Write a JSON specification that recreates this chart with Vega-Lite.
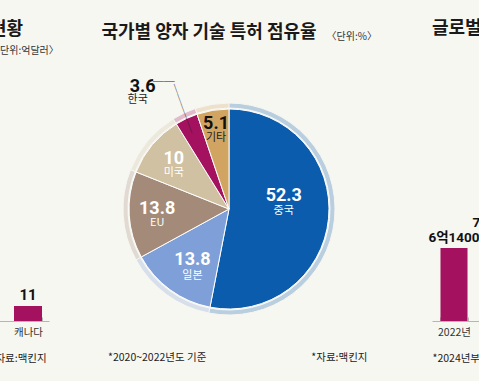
{
  "$schema": "https://vega.github.io/schema/vega-lite/v6.json",
  "background": "#f7f7f2",
  "padding": {"left": -14, "right": -45, "top": 20, "bottom": 17},
  "bounds": "flush",
  "spacing": 53,
  "title": {
    "text": "국가별 양자 기술 특허 점유율",
    "subtitle": "\u200b\u3000\u3000\u3000\u3000\u3000\u3000\u3000\u3000\u3000\u3000\u3000\u3000\u3000\u3000\u3000\u3000\u3000\u3000\u3000\u3000\u3000\u3000\u2002〈단위:%〉",
    "anchor": "start",
    "frame": "group",
    "dx": 115.5,
    "offset": -22,
    "subtitlePadding": -10,
    "fontSize": 18,
    "subtitleFontSize": 10
  },
  "config": {
    "view": {"stroke": null},
    "font": "Noto Sans CJK KR",
    "title": {
      "font": "Noto Sans CJK KR",
      "fontSize": 18,
      "fontWeight": "bold",
      "color": "#1a1a1a",
      "subtitleFont": "Noto Sans CJK KR",
      "subtitleFontSize": 10,
      "subtitleColor": "#333333"
    },
    "axis": {
      "labelFont": "Noto Sans CJK KR",
      "titleFont": "Noto Sans CJK KR",
      "labelFontSize": 10.5,
      "titleFontSize": 10.5,
      "titleFontWeight": "normal",
      "labelColor": "#333333",
      "titleColor": "#222222",
      "domainColor": "#b5b5b5",
      "tickColor": "#b5b5b5",
      "grid": false
    }
  },
  "hconcat": [
    {
      "width": 63,
      "height": 224,
      "title": {
        "text": "현황",
        "subtitle": "〈단위:억달러〉",
        "anchor": "start",
        "frame": "group",
        "dx": 4,
        "offset": 41,
        "subtitlePadding": 7
      },
      "data": {"values": [{"country": "캐나다", "amount": 11, "label": "11"}]},
      "encoding": {
        "x": {
          "field": "country",
          "type": "nominal",
          "scale": {"paddingInner": 0.35, "paddingOuter": 0.406, "align": 0.8},
          "axis": {
            "title": "*자료:맥킨지",
            "titleAnchor": "start",
            "titleAlign": "left",
            "titleX": 4,
            "labelAngle": 0,
            "tickBand": "extent",
            "tickSize": -4,
            "labelPadding": 10,
            "titlePadding": 16
          }
        },
        "y": {
          "field": "amount",
          "type": "quantitative",
          "axis": null,
          "scale": {"domain": [0, 164.3], "nice": false}
        }
      },
      "layer": [
        {"mark": {"type": "bar", "color": "#a3115f"}},
        {
          "mark": {
            "type": "text",
            "baseline": "bottom",
            "dy": -3,
            "fontSize": 15,
            "fontWeight": "bold",
            "color": "#111111",
            "font": "Roboto, Noto Sans CJK KR, sans-serif"
          },
          "encoding": {"text": {"field": "label", "type": "nominal"}}
        }
      ]
    },
    {
      "width": 277,
      "height": 224,
      "title": {
        "text": "*2020~2022년도 기준\u3000\u3000\u3000\u3000\u3000\u3000\u3000\u3000\u3000\u3000*자료:맥킨지",
        "orient": "bottom",
        "anchor": "start",
        "frame": "group",
        "dx": 6,
        "offset": 13,
        "fontSize": 10.5,
        "fontWeight": "normal",
        "color": "#222222"
      },
      "data": {
        "values": [
          {"country": "중국", "share": 52.3, "rank": 1},
          {"country": "일본", "share": 13.8, "rank": 2},
          {"country": "EU", "share": 13.8, "rank": 3},
          {"country": "미국", "share": 10, "rank": 4},
          {"country": "한국", "share": 3.6, "rank": 5},
          {"country": "기타", "share": 5.1, "rank": 6}
        ]
      },
      "encoding": {
        "theta": {"field": "share", "type": "quantitative", "stack": true},
        "order": {"field": "rank", "type": "quantitative"}
      },
      "layer": [
        {
          "mark": {"type": "arc", "radius": 106, "radius2": 101, "opacity": 0.26, "stroke": "#f7f7f2", "strokeWidth": 1, "xOffset": -11.5},
          "encoding": {
            "color": {
              "field": "country",
              "type": "nominal",
              "scale": {
                "domain": ["중국", "일본", "EU", "미국", "한국", "기타"],
                "range": ["#0c5cad", "#7f9fd8", "#a48b79", "#cfc1a1", "#a3115f", "#d2a462"]
              },
              "legend": null
            }
          }
        },
        {
          "mark": {"type": "arc", "radius": 100, "stroke": "#ffffff", "strokeWidth": 1, "xOffset": -11.5},
          "encoding": {
            "color": {"field": "country", "type": "nominal", "legend": null}
          }
        },
        {
          "mark": {"type": "text", "radius": 55, "dy": -18, "xOffset": -11.5, "fontSize": 18, "fontWeight": "bold", "color": "#ffffff", "baseline": "middle", "font": "Roboto, sans-serif"},
          "encoding": {"text": {"condition": {"test": "datum.country === '중국'", "field": "share", "type": "nominal"}, "value": ""}}
        },
        {
          "mark": {"type": "text", "radius": 55, "dy": -3, "xOffset": -11.5, "fontSize": 11, "color": "#ffffff", "baseline": "middle"},
          "encoding": {"text": {"condition": {"test": "datum.country === '중국'", "field": "country", "type": "nominal"}, "value": ""}}
        },
        {
          "mark": {"type": "text", "radius": 62, "dy": 1, "xOffset": -11.5, "fontSize": 18, "fontWeight": "bold", "color": "#ffffff", "baseline": "middle", "font": "Roboto, sans-serif"},
          "encoding": {"text": {"condition": {"test": "datum.country === '일본'", "field": "share", "type": "nominal"}, "value": ""}}
        },
        {
          "mark": {"type": "text", "radius": 62, "dy": 17, "xOffset": -11.5, "fontSize": 11, "color": "#ffffff", "baseline": "middle"},
          "encoding": {"text": {"condition": {"test": "datum.country === '일본'", "field": "country", "type": "nominal"}, "value": ""}}
        },
        {
          "mark": {"type": "text", "radius": 72, "dy": -4, "xOffset": -11.5, "fontSize": 18, "fontWeight": "bold", "color": "#ffffff", "baseline": "middle", "font": "Roboto, sans-serif"},
          "encoding": {"text": {"condition": {"test": "datum.country === 'EU' || datum.country === '미국'", "field": "share", "type": "nominal"}, "value": ""}}
        },
        {
          "mark": {"type": "text", "radius": 72, "dy": 10, "xOffset": -11.5, "fontSize": 11, "color": "#ffffff", "baseline": "middle"},
          "encoding": {"text": {"condition": {"test": "datum.country === 'EU' || datum.country === '미국'", "field": "country", "type": "nominal"}, "value": ""}}
        },
        {
          "mark": {"type": "text", "radius": 80, "dy": -6, "xOffset": -11.5, "fontSize": 18, "fontWeight": "bold", "color": "#111111", "baseline": "middle", "font": "Roboto, sans-serif"},
          "encoding": {"text": {"condition": {"test": "datum.country === '기타'", "field": "share", "type": "nominal"}, "value": ""}}
        },
        {
          "mark": {"type": "text", "radius": 80, "dy": 8, "xOffset": -11.5, "fontSize": 11, "color": "#222222", "baseline": "middle"},
          "encoding": {"text": {"condition": {"test": "datum.country === '기타'", "field": "country", "type": "nominal"}, "value": ""}}
        },
        {
          "mark": {"type": "text", "radius": 137, "dx": -28, "dy": 2, "xOffset": -11.5, "fontSize": 18, "fontWeight": "bold", "color": "#111111", "baseline": "middle", "align": "center", "font": "Roboto, sans-serif"},
          "encoding": {"text": {"condition": {"test": "datum.country === '한국'", "field": "share", "type": "nominal"}, "value": ""}}
        },
        {
          "mark": {"type": "text", "radius": 137, "dx": -33, "dy": 15, "xOffset": -11.5, "fontSize": 11, "color": "#222222", "baseline": "middle", "align": "center"},
          "encoding": {"text": {"condition": {"test": "datum.country === '한국'", "field": "country", "type": "nominal"}, "value": ""}}
        },
        {
          "mark": {"type": "text", "radius": 137, "dx": 4, "dy": -2, "xOffset": -11.5, "fontSize": 11, "color": "#222222", "baseline": "middle", "align": "right"},
          "encoding": {"text": {"condition": {"test": "datum.country === '한국'", "value": "──"}, "value": ""}}
        },
        {
          "mark": {"type": "text", "radius": 110.5, "angle": 70, "xOffset": -11.5, "fontSize": 10.5, "color": "#222222", "baseline": "middle", "align": "center"},
          "encoding": {"text": {"condition": {"test": "datum.country === '한국'", "value": "─────"}, "value": ""}}
        }
      ]
    },
    {
      "width": 88,
      "height": 224,
      "title": {
        "text": "글로벌",
        "anchor": "start",
        "frame": "group",
        "offset": 59
      },
      "data": {
        "values": [
          {"year": "2022년", "value": 6.14, "label": "6억1400"},
          {"year": "2023년", "value": 7.4, "label": "7억4000"}
        ]
      },
      "encoding": {
        "x": {
          "field": "year",
          "type": "nominal",
          "scale": {"paddingInner": 0.386, "paddingOuter": 0.193},
          "axis": {
            "title": "*2024년부터 전망치",
            "titleAnchor": "start",
            "titleAlign": "left",
            "labelAngle": 0,
            "tickBand": "extent",
            "tickSize": -4,
            "labelPadding": 10,
            "titlePadding": 16
          }
        },
        "y": {
          "field": "value",
          "type": "quantitative",
          "axis": null,
          "scale": {"domain": [0, 18.84], "nice": false}
        }
      },
      "layer": [
        {"mark": {"type": "bar", "color": "#a3115f"}},
        {
          "mark": {
            "type": "text",
            "baseline": "bottom",
            "dy": -3,
            "fontSize": 13.5,
            "fontWeight": "bold",
            "color": "#111111",
            "letterSpacing": -1,
            "font": "Roboto, Noto Sans CJK KR, sans-serif"
          },
          "encoding": {"text": {"field": "label", "type": "nominal"}}
        }
      ]
    }
  ]
}
